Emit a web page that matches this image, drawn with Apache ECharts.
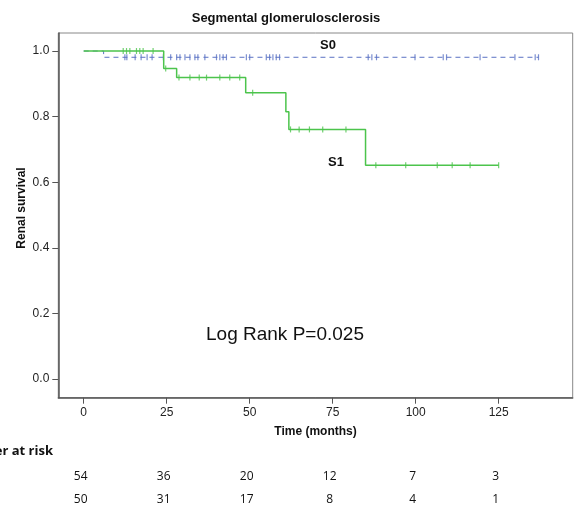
<!DOCTYPE html>
<html>
<head>
<meta charset="utf-8">
<script src="https://cdn.jsdelivr.net/npm/echarts@6/dist/echarts.min.js"></script>
<style>html,body{margin:0;padding:0;background:#fff;}#c{width:575px;height:507px;}</style>
</head>
<body>
<div id="c"></div>
<script>
// ---- data ----
const xTicks = [0, 25, 50, 75, 100, 125];
const yTicks = [0, 0.2, 0.4, 0.6, 0.8, 1.0];
// S0 Kaplan-Meier steps [time, survival]
const s0Steps = [[0, 1.0], [6, 0.981]];
const s0End = 137;
const s0Censor = [12.4, 13, 15.5, 17.3, 19.1, 20.6, 24, 26.2, 28, 29, 30.5, 32, 33.5, 34.4, 36.5, 40, 41, 42, 43, 49, 50, 55, 56, 57, 58, 59, 85.7, 86.8, 88.2, 99.8, 108.3, 109.3, 119.4, 129.9, 136, 137];
// S1 Kaplan-Meier steps
const s1Steps = [[0, 1.0], [24.1, 0.947], [28, 0.919], [48.8, 0.873], [60.9, 0.815], [61.8, 0.761], [84.9, 0.652]];
const s1End = 125;
const s1Censor = [11.9, 12.9, 13.9, 15.9, 16.9, 17.9, 20.9, 24.7, 28.7, 32, 34.8, 37, 41, 44, 47, 50.9, 62.3, 64.9, 68, 72, 79, 88, 97, 106.5, 111, 116.4, 125];
// numbers at risk
const riskTimes = [0, 25, 50, 75, 100, 125];
const riskS0 = [54, 36, 20, 12, 7, 3];
const riskS1 = [50, 31, 17, 8, 4, 1];

function survAt(steps, t) {
  let v = steps[0][1];
  for (const s of steps) { if (s[0] <= t) v = s[1]; }
  return v;
}
function curve(steps, end) {
  const d = steps.map(s => [s[0], s[1]]);
  d.push([end, steps[steps.length - 1][1]]);
  return d;
}
const BLUE = '#5a72c4', GREEN = '#4cc44c';
const chart = echarts.init(document.getElementById('c'), null, {renderer: 'canvas'});
const fam = '"Liberation Sans", Arial, sans-serif';
const option = {
  animation: false,
  grid: {left: 58.3, right: 2.3, top: 33, bottom: 109.3, show: true, borderColor: '#888', borderWidth: 1, backgroundColor: '#fff'},
  xAxis: {
    type: 'value', min: -7.65, max: 147.3,
    axisLine: {show: true, onZero: false, lineStyle: {color: '#555', width: 1.5}},
    axisTick: {show: true, length: 6, inside: false, customValues: xTicks, lineStyle: {color: '#555'}},
    axisLabel: {customValues: xTicks, margin: 9, color: '#222', fontSize: 12, fontFamily: fam},
    splitLine: {show: false},
    name: 'Time (months)', nameLocation: 'middle', nameGap: 28,
    nameTextStyle: {fontWeight: 'bold', fontSize: 12, color: '#111', fontFamily: fam}
  },
  yAxis: {
    type: 'value', min: -0.057, max: 1.055,
    axisLine: {show: true, onZero: false, lineStyle: {color: '#555', width: 1.5}},
    axisTick: {show: true, length: 6, inside: false, customValues: yTicks, lineStyle: {color: '#555'}},
    axisLabel: {customValues: yTicks, margin: 9, color: '#222', fontSize: 12, fontFamily: fam, formatter: v => v.toFixed(1)},
    splitLine: {show: false}
  },
  series: [
    {type: 'line', data: curve(s0Steps, s0End), step: 'end', symbol: 'none', lineStyle: {color: BLUE, width: 1, type: [5, 4]}, z: 2},
    {type: 'scatter', data: s0Censor.map(t => [t, survAt(s0Steps, t)]), symbol: 'rect', symbolSize: [1.2, 6], itemStyle: {color: BLUE}, z: 3},
    {type: 'line', data: curve(s1Steps, s1End), step: 'end', symbol: 'none', lineStyle: {color: GREEN, width: 1.5}, z: 4},
    {type: 'scatter', data: s1Censor.map(t => [t, survAt(s1Steps, t)]), symbol: 'rect', symbolSize: [1.2, 6], itemStyle: {color: GREEN}, z: 5}
  ]
};
chart.setOption(option);

const g = [
  {type: 'text', x: 286, y: 18, style: {text: 'Segmental glomerulosclerosis', font: 'bold 13px ' + fam, fill: '#111', align: 'center', verticalAlign: 'middle'}},
  {type: 'text', x: 22, y: 208, rotation: Math.PI / 2, style: {text: 'Renal survival', font: 'bold 12px ' + fam, fill: '#111', align: 'center', verticalAlign: 'middle'}},
  {type: 'text', x: 328, y: 45, style: {text: 'S0', font: 'bold 13px ' + fam, fill: '#111', align: 'center', verticalAlign: 'middle'}},
  {type: 'text', x: 336, y: 162, style: {text: 'S1', font: 'bold 13px ' + fam, fill: '#111', align: 'center', verticalAlign: 'middle'}},
  {type: 'text', x: 285, y: 335, style: {text: 'Log Rank P=0.025', font: '19px ' + fam, fill: '#111', align: 'center', verticalAlign: 'middle'}},
  {type: 'text', x: 53, y: 451, style: {text: 'Number at risk', font: 'bold 13px "Open Sans", ' + fam, fill: '#111', align: 'right', verticalAlign: 'middle'}}
];
riskTimes.forEach((t, i) => {
  const px = chart.convertToPixel({gridIndex: 0}, [t, 0])[0] - 3;
  g.push({type: 'text', x: px, y: 477, style: {text: String(riskS0[i]), font: '12px "Open Sans", sans-serif', fill: '#111', align: 'center', verticalAlign: 'middle'}});
  g.push({type: 'text', x: px, y: 500, style: {text: String(riskS1[i]), font: '12px "Open Sans", sans-serif', fill: '#111', align: 'center', verticalAlign: 'middle'}});
});
chart.setOption({graphic: g});
</script>
</body>
</html>
